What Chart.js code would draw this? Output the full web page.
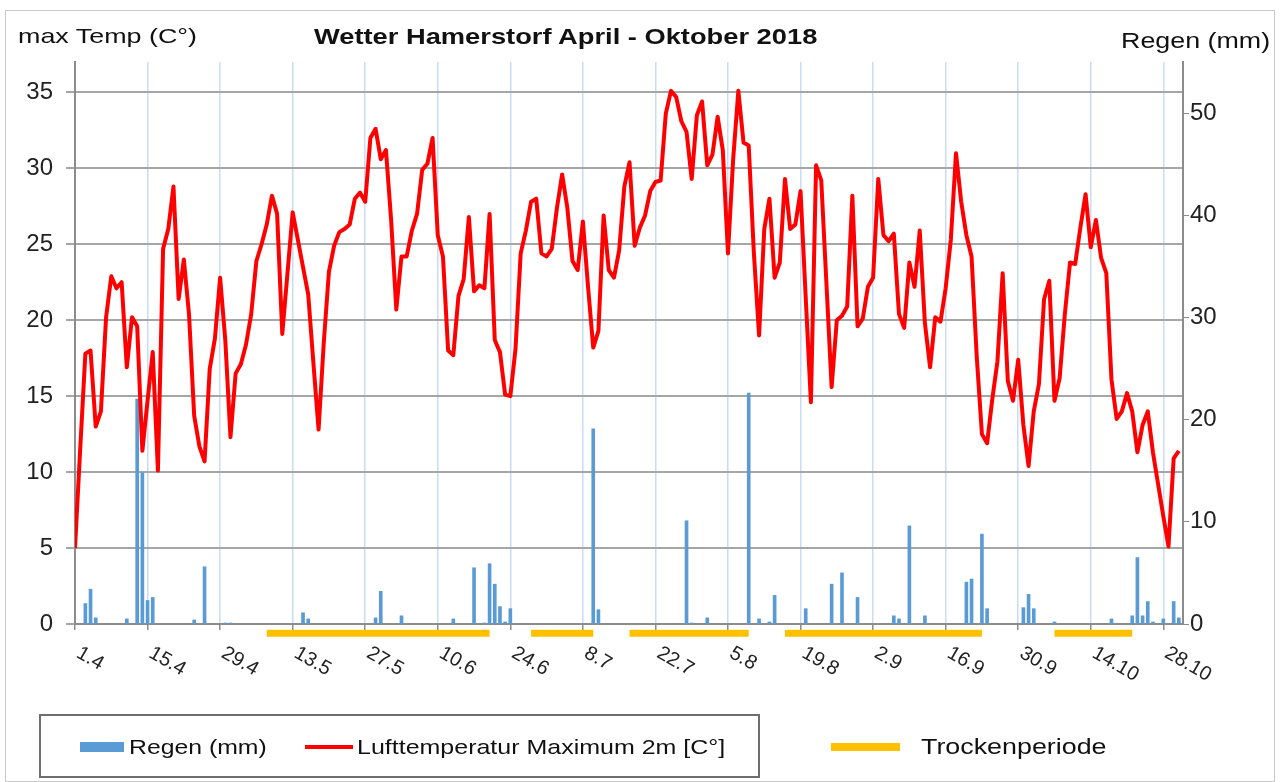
<!DOCTYPE html>
<html>
<head>
<meta charset="utf-8">
<script src="https://cdn.jsdelivr.net/npm/chart.js@4.4.1/dist/chart.umd.min.js"></script>
<style>
  body { margin: 0; background: #fff; font-family: "Liberation Sans", Arial, sans-serif; }
  #wrap { position: relative; width: 1281px; height: 782px; overflow: hidden; }
  #frame { position: absolute; left: 5px; top: 10px; width: 1270px; height: 772px; border: 1px solid #c8c8c8; box-sizing: border-box; }
  canvas { position: absolute; left: 0; top: 0; }
  .lbl { position: absolute; white-space: nowrap; line-height: 1; color: #111; transform-origin: 0 0; }
  #legendBox { position: absolute; left: 39px; top: 714px; width: 721px; height: 64px; border: 2px solid #6e6e6e; box-sizing: border-box; }
  .mark { position: absolute; }
</style>
</head>
<body>
<div id="wrap">
  <div id="frame"></div>
  <canvas id="chart" width="1281" height="782"></canvas>
  <div class="lbl" style="left:18px; top:25px; font-size:21px; transform:scaleX(1.28);">max Temp (C°)</div>
  <div class="lbl" style="left:314px; top:26px; font-size:22px; font-weight:bold; transform:scaleX(1.24);">Wetter Hamerstorf April - Oktober 2018</div>
  <div class="lbl" style="left:1121px; top:30px; font-size:22px; transform:scaleX(1.22);">Regen (mm)</div>
  <div id="legendBox"></div>
  <div class="mark" style="left:80px; top:742px; width:44px; height:10px; background:#5b9bd5;"></div>
  <div class="lbl" style="left:129px; top:736px; font-size:21px; transform:scaleX(1.18);">Regen (mm)</div>
  <div class="mark" style="left:305px; top:745px; width:48px; height:4px; background:#ff0000;"></div>
  <div class="lbl" style="left:357px; top:736px; font-size:21px; transform:scaleX(1.19);">Lufttemperatur Maximum 2m [C°]</div>
  <div class="mark" style="left:831px; top:743px; width:69px; height:8px; background:#ffc000;"></div>
  <div class="lbl" style="left:921px; top:736px; font-size:22px; transform:scaleX(1.22);">Trockenperiode</div>
</div>
<script>
// x axis: day index from 1.4.2018, labelled every 14 days
const tickDays = [0, 14, 28, 42, 56, 70, 84, 98, 112, 126, 140, 154, 168, 182, 196, 210];
const tickLabels = ["1.4", "15.4", "29.4", "13.5", "27.5", "10.6", "24.6", "8.7",
  "22.7", "5.8", "19.8", "2.9", "16.9", "30.9", "14.10", "28.10"];

// daily max temperature, 1.4. - 31.10.
const tempMax = [
  5.0, 11.5, 17.8, 18.0, 13.0, 14.0, 20.2, 22.9, 22.1, 22.5,
  16.9, 20.2, 19.6, 11.4, 14.7, 17.9, 10.1, 24.7, 26.0, 28.8,
  21.4, 24.0, 20.4, 13.7, 11.7, 10.7, 16.8, 18.8, 22.8, 18.7,
  12.3, 16.5, 17.1, 18.4, 20.4, 23.9, 25.0, 26.3, 28.2, 27.0,
  19.1, 23.1, 27.1, 25.3, 23.5, 21.7, 17.2, 12.8, 18.5, 23.2,
  24.9, 25.8, 26.0, 26.3, 28.0, 28.4, 27.8, 32.0, 32.6, 30.6,
  31.2, 26.6, 20.7, 24.2, 24.2, 25.9, 27.0, 29.9, 30.3, 32.0,
  25.6, 24.2, 18.0, 17.7, 21.6, 22.7, 26.8, 21.9, 22.3, 22.1,
  27.0, 18.7, 17.9, 15.1, 15.0, 18.1, 24.4, 25.9, 27.8, 28.0,
  24.4, 24.2, 24.7, 27.4, 29.6, 27.4, 23.9, 23.3, 26.5, 22.2,
  18.2, 19.3, 26.9, 23.3, 22.8, 24.6, 28.8, 30.4, 24.9, 26.1,
  26.9, 28.5, 29.1, 29.2, 33.6, 35.1, 34.7, 33.1, 32.4, 29.3,
  33.5, 34.4, 30.2, 30.9, 33.4, 31.2, 24.4, 30.6, 35.1, 31.7,
  31.5, 24.4, 19.0, 26.0, 28.0, 22.8, 23.8, 29.3, 26.0, 26.3,
  28.5, 21.5, 14.6, 30.2, 29.2, 22.4, 15.6, 20.0, 20.3, 20.9,
  28.2, 19.6, 20.1, 22.2, 22.8, 29.3, 25.6, 25.2, 25.7, 20.4,
  19.5, 23.8, 22.2, 25.9, 19.8, 16.9, 20.2, 19.9, 22.1, 25.3,
  31.0, 27.8, 25.6, 24.2, 17.6, 12.5, 11.9, 14.8, 17.3, 23.1,
  16.0, 14.7, 17.4, 13.1, 10.4, 14.0, 15.8, 21.4, 22.6, 14.7,
  16.2, 20.4, 23.8, 23.7, 26.1, 28.3, 24.8, 26.6, 24.1, 23.1,
  16.1, 13.5, 14.0, 15.2, 14.0, 11.3, 13.1, 14.0, 11.3, 9.2,
  7.1, 5.1, 10.9, 11.4
];

// rain days (day index) and amounts in mm
const rainDays = [2, 3, 4, 10, 12, 13, 14, 15, 23, 25, 29, 30, 44, 45, 58, 59, 63, 73,
  77, 79, 80, 81, 82, 83, 84, 100, 101, 118, 119, 122, 130, 132, 134, 135, 141, 146,
  148, 151, 158, 159, 161, 164, 172, 173, 175, 176, 183, 184, 185, 189, 200, 204,
  205, 206, 207, 208, 210, 212, 213];
const rainMm = [2.0, 3.4, 0.6, 0.5, 22.0, 14.8, 2.3, 2.6, 0.4, 5.6, 0.1, 0.1, 1.1, 0.5, 0.6, 3.2, 0.8, 0.5,
  5.5, 0.1, 5.9, 3.9, 1.7, 0.2, 1.5, 19.1, 1.4, 10.1, 0.1, 0.6, 22.6, 0.5, 0.2, 2.8, 1.5, 3.9,
  5.0, 2.6, 0.8, 0.5, 9.6, 0.8, 4.1, 4.4, 8.8, 1.5, 1.6, 2.9, 1.5, 0.2, 0.5, 0.8,
  6.5, 0.8, 2.2, 0.2, 0.5, 2.2, 0.6];

// dry periods (Trockenperiode), start / end day index
const dryStart = [37, 88, 107, 137, 189];
const dryEnd = [80, 100, 130, 175, 204];

const tempTicks = [0, 5, 10, 15, 20, 25, 30, 35];
const rainTicks = [0, 10, 20, 30, 40, 50];

const FONT = '"Liberation Sans", Arial, sans-serif';

const tempData = tempMax.map((v, i) => ({ x: i, y: v }));
const rainData = rainDays.map((d, i) => ({ x: d, y: rainMm[i] }));

const dryDatasets = dryStart.map((s, i) => ({
  type: "line",
  label: "Trockenperiode",
  data: [{ x: s, y: -0.9 }, { x: dryEnd[i], y: -0.9 }],
  yAxisID: "y2",
  borderColor: "#ffc000",
  borderWidth: 7,
  borderCapStyle: "butt",
  pointRadius: 0,
  clip: false,
  order: 0,
}));

// rotated date labels under the x axis (text runs down to the right)
const xLabels = {
  id: "xLabels",
  afterDraw(chart) {
    const { ctx, scales } = chart;
    const bottom = chart.chartArea.bottom;
    ctx.save();
    ctx.font = "20px " + FONT;
    ctx.fillStyle = "#222";
    ctx.textAlign = "left";
    ctx.textBaseline = "top";
    tickDays.forEach((d, i) => {
      const px = scales.x.getPixelForValue(d);
      ctx.save();
      ctx.translate(px + 8, bottom + 19);
      ctx.rotate(Math.PI / 6);
      ctx.fillText(tickLabels[i], 0, 0);
      ctx.restore();
    });
    ctx.restore();
  },
};

new Chart(document.getElementById("chart"), {
  type: "line",
  data: {
    datasets: [
      {
        type: "line",
        label: "Lufttemperatur Maximum 2m [C°]",
        data: tempData,
        yAxisID: "y",
        borderColor: "#ff0000",
        borderWidth: 4,
        borderJoinStyle: "round",
        pointRadius: 0,
        tension: 0,
        order: 1,
      },
      {
        type: "bar",
        label: "Regen (mm)",
        data: rainData,
        yAxisID: "y2",
        backgroundColor: "#5b9bd5",
        barThickness: 3,
        order: 2,
      },
      ...dryDatasets,
    ],
  },
  options: {
    responsive: false,
    animation: false,
    layout: { padding: { left: 5, right: 38, top: 62, bottom: 128 } },
    plugins: {
      legend: { display: false },
      tooltip: { enabled: false },
    },
    scales: {
      x: {
        type: "linear",
        min: 0,
        max: 213.8,
        offset: false,
        grid: { color: "#c9dcf3", lineWidth: 1.5, offset: false, tickColor: "#8c8c8c", tickLength: 6 },
        border: { color: "#8c8c8c", width: 2 },
        ticks: { display: false },
        afterBuildTicks: (s) => { s.ticks = tickDays.map((v) => ({ value: v })); },
        afterFit: (s) => { s.height = 30; },
      },
      y: {
        position: "left",
        min: 0,
        max: 37,
        grid: { color: "#a6a6a6", lineWidth: 2, tickLength: 9 },
        border: { color: "#8c8c8c", width: 2 },
        ticks: { font: { family: FONT, size: 24 }, color: "#222", padding: 13 },
        afterBuildTicks: (s) => { s.ticks = tempTicks.map((v) => ({ value: v })); },
        afterFit: (s) => { s.width = 70; },
      },
      y2: {
        position: "right",
        min: 0,
        max: 55,
        grid: { drawOnChartArea: false, color: "#8c8c8c", tickLength: 6 },
        border: { color: "#8c8c8c", width: 2 },
        ticks: { font: { family: FONT, size: 24 }, color: "#222", padding: 1 },
        afterBuildTicks: (s) => { s.ticks = rainTicks.map((v) => ({ value: v })); },
        afterFit: (s) => { s.width = 60; },
      },
    },
  },
  plugins: [xLabels],
});
</script>
</body>
</html>
